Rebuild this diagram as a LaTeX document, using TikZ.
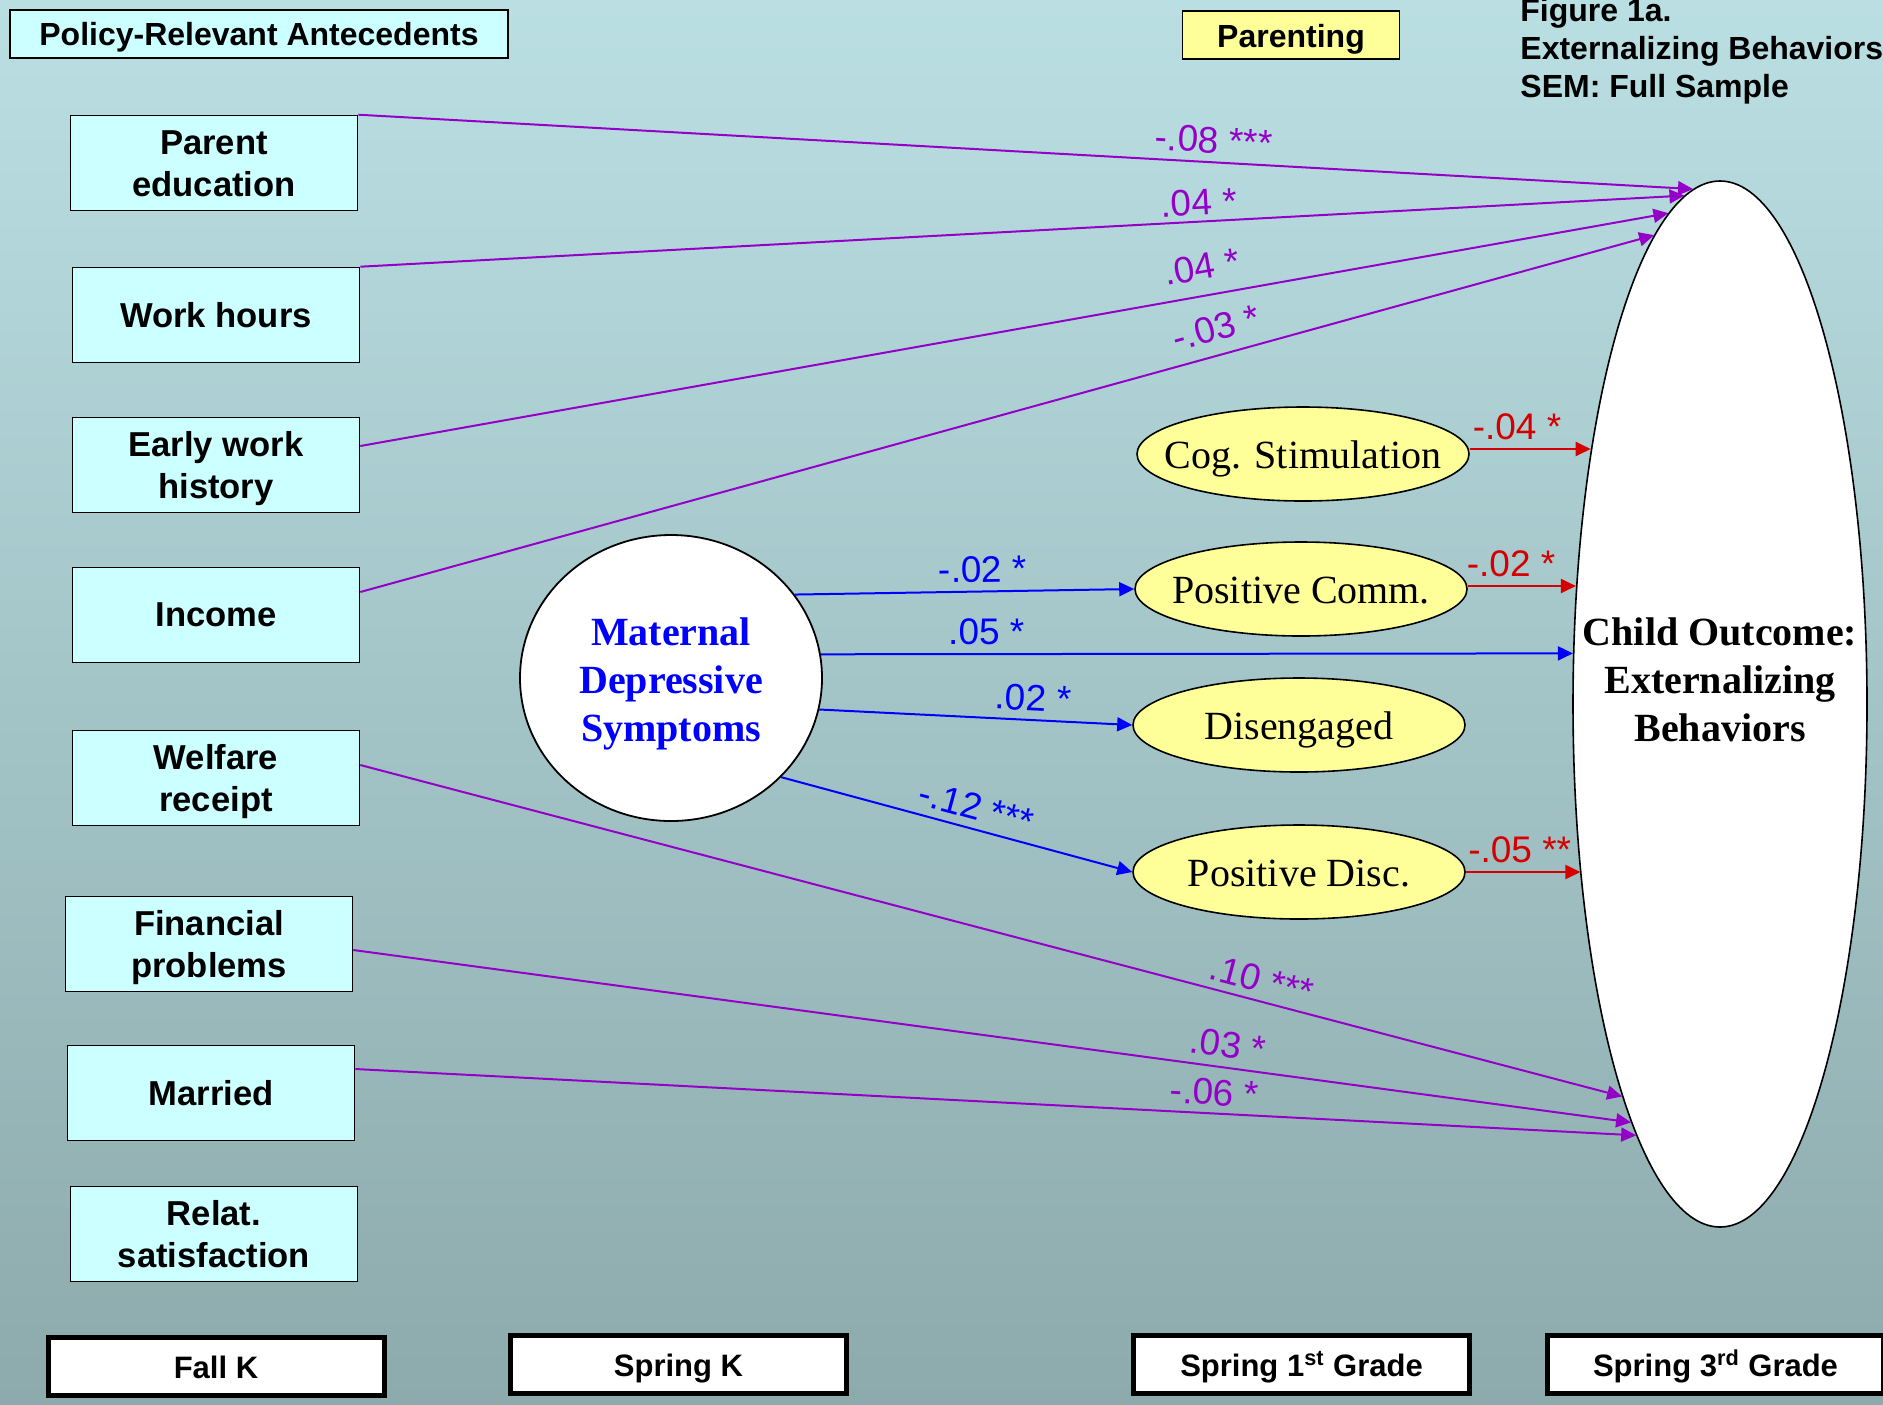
\documentclass[tikz,border=0pt]{standalone}
\usepackage{fontspec}
\setmainfont{Liberation Sans}
\newfontfamily\tnr{Liberation Serif}
\usetikzlibrary{arrows.meta,shapes.geometric}
\definecolor{bgtop}{RGB}{186,223,227}
\definecolor{bgbot}{RGB}{141,170,172}
\definecolor{boxcyan}{RGB}{204,255,255}
\definecolor{yel}{RGB}{255,255,153}
\definecolor{purp}{RGB}{148,0,200}
\definecolor{redc}{RGB}{212,0,0}
\definecolor{bluec}{RGB}{0,0,255}
\newcommand\firststrut{\rule{0pt}{16.2pt}}
\newcommand\laststrut{\rule[-3.6pt]{0pt}{0pt}}
\begin{document}
\begin{tikzpicture}[x=0.5pt,y=-0.5pt,
  abox/.style={draw=black, line width=0.8pt, fill=boxcyan, minimum width=143.5pt, minimum height=47.5pt, align=center, inner sep=0pt, font=\bfseries\fontsize{17.3}{21}\selectfont},
  hbox/.style={abox, minimum height=24pt, text height=11.3pt, text depth=0pt, font=\bfseries\fontsize{16}{19}\selectfont},
  tbox/.style={draw=black, line width=2.5pt, fill=white, minimum width=168pt, minimum height=29pt, inner sep=0pt, text height=12pt, text depth=0pt, font=\bfseries\fontsize{15.5}{18}\selectfont},
  ttl/.style={anchor=base west, inner sep=0pt, font=\bfseries\fontsize{16}{19}\selectfont},
  yell/.style={ellipse, draw=black, line width=0.8pt, fill=yel, minimum width=166pt, minimum height=47pt, inner sep=0pt},
  ytxt/.style={anchor=base, yshift=-7.4pt, inner sep=0pt, font=\tnr\fontsize{20}{24}\selectfont},
  circ/.style={ellipse, draw=black, line width=0.9pt, fill=white, minimum width=151pt, minimum height=143pt, inner sep=0pt},
  ctxt/.style={inner sep=0pt, align=center, text=bluec, font=\tnr\bfseries\fontsize{20}{24}\selectfont},
  outell/.style={ellipse, draw=black, line width=0.8pt, fill=white, minimum width=147pt, minimum height=523pt, inner sep=0pt},
  outtxt/.style={inner sep=0pt, align=center, font=\tnr\bfseries\fontsize{20}{24}\selectfont},
  lab/.style={sloped, above, inner sep=4pt, font=\fontsize{18.5}{20}\selectfont},
  plab/.style={lab, text=purp},
  blab/.style={lab, text=bluec},
  rlab/.style={lab, text=redc},
  tip/.style={-{Triangle[length=7.5pt,width=7pt]}},
  pline/.style={draw=purp, line width=1pt, tip},
  bline/.style={draw=bluec, line width=1pt, tip},
  rline/.style={draw=redc, line width=1pt, tip}
]
\useasboundingbox (0,0) rectangle (1883,1404);
\shade[top color=bgtop, bottom color=bgbot] (0,0) rectangle (1883,1404);

% header boxes and title
\node[hbox, minimum width=249pt] (pol) at (259,34) {Policy-Relevant Antecedents};
\node[hbox, fill=yel, minimum width=108.5pt, text height=12pt] (par) at (1291,35) {Parenting};
\node[ttl] (t1) at (1520,21) {Figure 1a.};
\node[ttl] (t2) at (1520,59) {Externalizing Behaviors};
\node[ttl] (t3) at (1520,97) {SEM: Full Sample};

% antecedent boxes
\node[abox] (pe) at (214,163) {\firststrut Parent\\education\laststrut};
\node[abox] (wh) at (216,315) {Work hours};
\node[abox] (ew) at (216,465) {\firststrut Early work\\history\laststrut};
\node[abox] (inc) at (216,615) {Income};
\node[abox] (wel) at (216,778) {\firststrut Welfare\\receipt\laststrut};
\node[abox] (fin) at (209,944) {\firststrut Financial\\problems\laststrut};
\node[abox] (mar) at (211,1093) {Married};
\node[abox] (rel) at (214,1234) {\firststrut Relat.\\satisfaction\laststrut};

% maternal depressive symptoms
\node[circ] (mds) at (671,678) {};
\node[ctxt] (mdst) at (671,684) {Maternal\\Depressive\\Symptoms};

% parenting ellipses
\node[yell] (cog) at (1303,454) {};
\node[ytxt] (cogt) at (cog) {Cog. Stimulation};
\node[yell] (pc) at (1301,589) {};
\node[ytxt] (pct) at (pc) {Positive Comm.};
\node[yell] (dis) at (1299,725) {};
\node[ytxt] (dist) at (dis) {Disengaged};
\node[yell] (pd) at (1299,872) {};
\node[ytxt] (pdt) at (pd) {Positive Disc.};

% outcome
\node[outell] (out) at (1720,704) {};
\node[outtxt] (outt) at (1720,680) {Child Outcome:\\Externalizing\\Behaviors};

% time boxes
\node[tbox] (fk) at (216,1366) {Fall K};
\node[tbox] (sk) at (678.5,1364) {Spring K};
\node[tbox] (s1) at (1301.5,1364) {Spring 1\textsuperscript{st} Grade};
\node[tbox] (s3) at (1715.5,1364) {Spring 3\textsuperscript{rd} Grade};

% purple paths
\draw[pline] (pe.north east) -- node[plab,pos=0.64]{-.08 ***} (out.93);
\draw[pline] (wh.north east) -- node[plab,pos=0.634,inner sep=2.5pt]{.04 *} (out.94.4);
\draw[pline] ([yshift=9.5pt]ew.east) -- node[plab,pos=0.647,inner sep=7.5pt]{.04 *} (out.96.2);
\draw[pline] ([yshift=11.5pt]inc.east) -- node[plab,pos=0.667,inner sep=6.5pt]{-.03 *} (out.98);
\draw[pline] ([yshift=6.5pt]wel.east) -- node[plab,pos=0.71,inner sep=3.5pt]{.10 ***} (out.256.7);
\draw[pline] ([yshift=-3pt]fin.east) -- node[plab,pos=0.682,inner sep=4.5pt]{.03 *} (out.258.2);
\draw[pline] ([yshift=12pt]mar.east) -- node[plab,pos=0.67,inner sep=3.5pt]{-.06 *} (out.259.9);

% blue paths
\draw[bline] (mds.34) -- node[blab,pos=0.555]{-.02 *} (pc.west);
\draw[bline] (mds.9.5) -- node[blab,pos=0.22]{.05 *} (out.161.2);
\draw[bline] (mds.-12.6) -- node[blab,pos=0.68]{.02 *} (dis.west);
\draw[bline] (mds.-42.6) -- node[blab,pos=0.54]{-.12 ***} (pd.west);

% red paths
\coordinate (cogs) at ([yshift=2.5pt]cog.east);
\coordinate (pcs) at ([yshift=1.5pt]pc.east);
\coordinate (pds) at (pd.east);
\draw[rline] (cogs) -- node[rlab,pos=0.39]{-.04 *} (cogs -| out.117.2);
\draw[rline] (pcs) -- node[rlab,pos=0.4]{-.02 *} (pcs -| out.141.1);
\draw[rline] (pds) -- node[rlab,pos=0.47]{-.05 **} (pds -| out.231.2);
\end{tikzpicture}
\end{document}
